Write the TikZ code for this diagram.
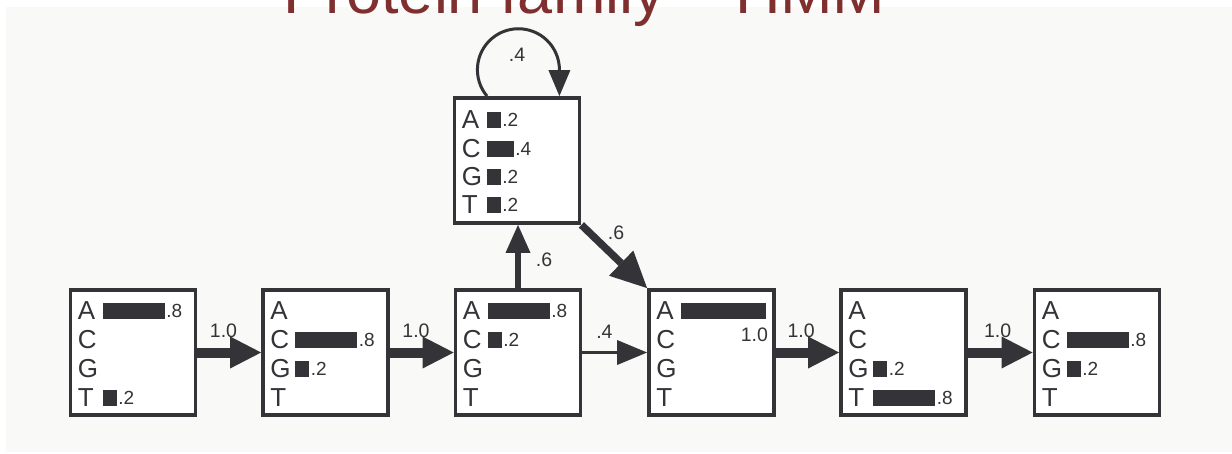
\documentclass[tikz,border=0pt]{standalone}
\usepackage{fontspec}
\setmainfont{Liberation Sans}
\usetikzlibrary{arrows.meta}

\definecolor{ink}{RGB}{52,51,56}
\definecolor{panel}{RGB}{249,249,247}
\definecolor{titlered}{RGB}{128,47,47}

\tikzset{
  hmmbox/.style={draw=ink, line width=3.8pt, fill=white,
    minimum width=125pt, minimum height=125pt, inner sep=0pt},
  base/.style={font=\fontsize{26}{26}\selectfont, text=ink, inner sep=0pt, anchor=west},
  prob/.style={font=\fontsize{19}{19}\selectfont, text=ink, inner sep=1.5pt, anchor=west},
  edgelabel/.style={font=\fontsize{19.5}{19.5}\selectfont, text=ink, inner sep=0pt},
  bigflow/.style={draw=ink, line width=10pt,
    -{Triangle[length=31pt,width=32pt,line width=0pt]}},
  thinflow/.style={draw=ink, line width=3.5pt,
    -{Triangle[length=30pt,width=25pt,line width=0pt]}},
  upflow/.style={draw=ink, line width=6pt,
    -{Triangle[length=28pt,width=25pt,line width=0pt]}},
  diagflow/.style={draw=ink, line width=7.5pt,
    -{Triangle[length=36pt,width=35pt,line width=0pt]}},
  loopflow/.style={draw=ink, line width=3pt,
    -{Triangle[length=26pt,width=22pt,line width=0pt]}},
}

% one emission row: box, vertical offset, base, bar length, probability
\newcommand\emitrow[5]{%
  \node[base] (#1#3) at ([shift={(9,#2)}]#1.west) {#3};
  \ifdim #4pt>0pt
    \fill[ink] ([shift={(34,#2-8)}]#1.west) rectangle ++(#4,16);
    \node[prob] (#1#3v) at ([shift={(34+#4,#2)}]#1.west) {#5};
  \fi}

\begin{document}
\begin{tikzpicture}[x=1pt,y=-1pt]
  \useasboundingbox (0,0) rectangle (1232,453);
  \clip (0,0) rectangle (1232,453);
  \fill[white] (0,0) rectangle (1232,453);
  \fill[panel] (6,7) rectangle (1232,452);

  \node[anchor=base, text=titlered, font=\fontsize{63}{63}\selectfont, inner sep=0pt]
    (title) at (584.5,13) {Protein family – HMM};

  % match states and the insert state
  \node[hmmbox] (b1) at (133,352.5) {};
  \node[hmmbox] (b2) at (325.5,352.5) {};
  \node[hmmbox] (b3) at (518,352.5) {};
  \node[hmmbox] (b4) at (711.5,352.5) {};
  \node[hmmbox] (b5) at (903.5,352.5) {};
  \node[hmmbox] (b6) at (1097,352.5) {};
  \node[hmmbox] (ins) at (517,160.5) {};

  % emission probabilities
  \emitrow{b1}{-42}{A}{62}{.8}
  \emitrow{b1}{-13}{C}{0}{}
  \emitrow{b1}{16}{G}{0}{}
  \emitrow{b1}{45}{T}{14}{.2}

  \emitrow{b2}{-42}{A}{0}{}
  \emitrow{b2}{-13}{C}{62}{.8}
  \emitrow{b2}{16}{G}{14}{.2}
  \emitrow{b2}{45}{T}{0}{}

  \emitrow{b3}{-42}{A}{62}{.8}
  \emitrow{b3}{-13}{C}{14}{.2}
  \emitrow{b3}{16}{G}{0}{}
  \emitrow{b3}{45}{T}{0}{}

  \emitrow{b4}{-42}{A}{0}{}
  \fill[ink] ([shift={(34,-50)}]b4.west) rectangle ++(85,16);
  \node[edgelabel, anchor=north east] (b4Av) at ([shift={(121,-25)}]b4.west) {1.0};
  \emitrow{b4}{-13}{C}{0}{}
  \emitrow{b4}{16}{G}{0}{}
  \emitrow{b4}{45}{T}{0}{}

  \emitrow{b5}{-42}{A}{0}{}
  \emitrow{b5}{-13}{C}{0}{}
  \emitrow{b5}{16}{G}{14}{.2}
  \emitrow{b5}{45}{T}{62}{.8}

  \emitrow{b6}{-42}{A}{0}{}
  \emitrow{b6}{-13}{C}{62}{.8}
  \emitrow{b6}{16}{G}{14}{.2}
  \emitrow{b6}{45}{T}{0}{}

  \emitrow{ins}{-41}{A}{14}{.2}
  \emitrow{ins}{-12}{C}{27}{.4}
  \emitrow{ins}{16}{G}{14}{.2}
  \emitrow{ins}{44}{T}{14}{.2}

  % transitions
  \draw[bigflow] (b1) -- node[edgelabel, pos=0.41, yshift=22pt] {1.0} (b2);
  \draw[bigflow] (b2) -- node[edgelabel, pos=0.41, yshift=22pt] {1.0} (b3);
  \draw[thinflow] (b3) -- node[edgelabel, pos=0.34, yshift=21pt] {.4} (b4);
  \draw[bigflow] (b4) -- node[edgelabel, pos=0.40, yshift=22pt] {1.0} (b5);
  \draw[bigflow] (b5) -- node[edgelabel, pos=0.46, yshift=22pt] {1.0} (b6);
  \draw[upflow] (b3.north) -- node[edgelabel, xshift=26pt, yshift=-3pt] {.6} (b3.north |- ins.south);
  \draw[diagflow] (ins.south east) -- node[edgelabel, pos=0.3, xshift=15pt, yshift=11pt] {.6} (b4.north west);
  \draw[loopflow] ([xshift=-30pt]ins.north) arc[start angle=140, end angle=360, radius=41]
    -- ([xshift=42.4pt]ins.north);
  \node[edgelabel] (looplabel) at ([yshift=41pt]ins.north) {.4};
\end{tikzpicture}
\end{document}
